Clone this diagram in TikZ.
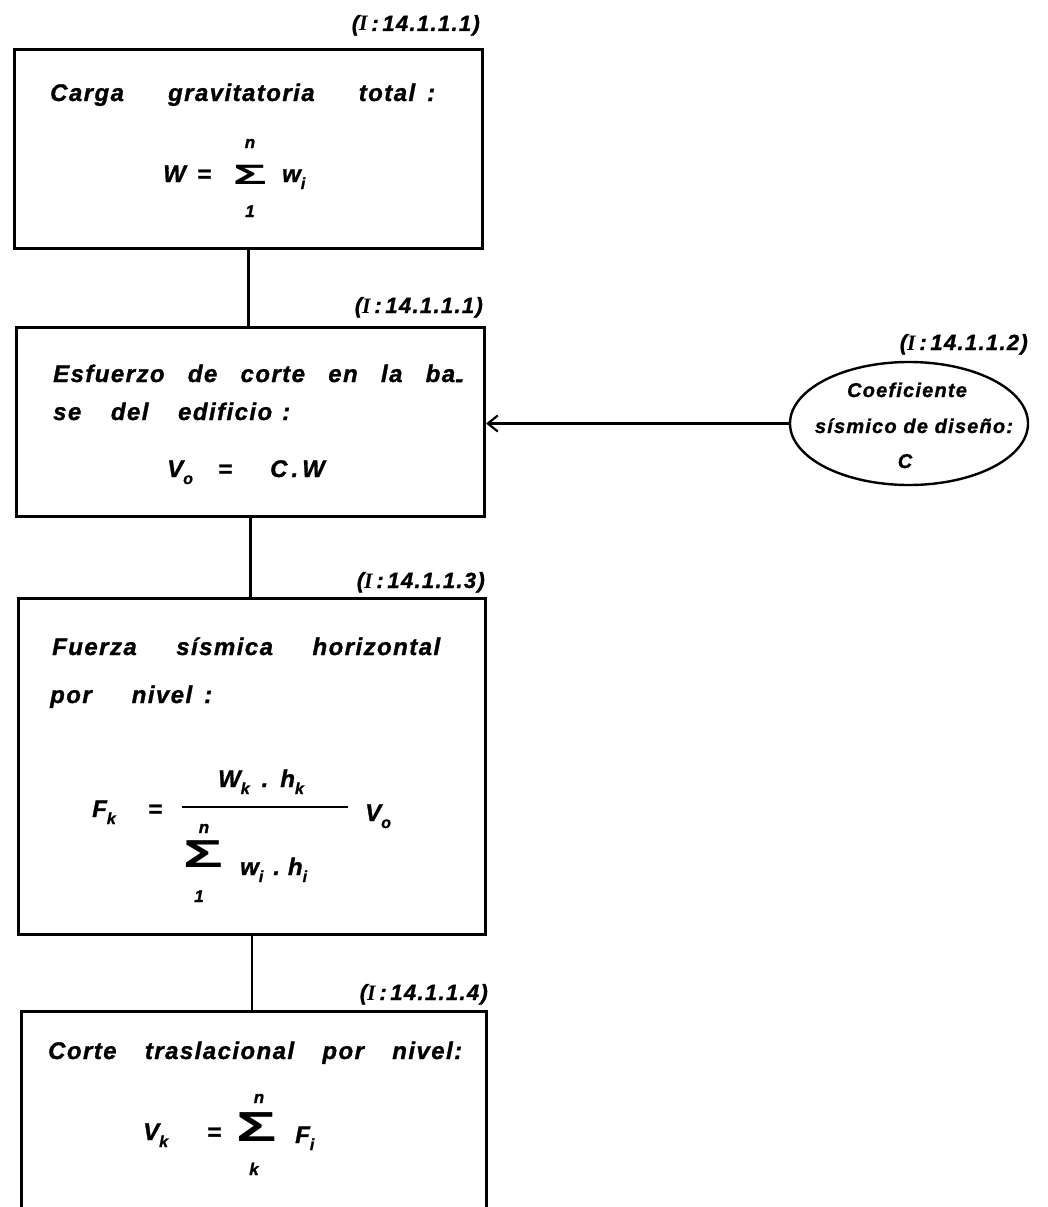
\documentclass[tikz,border=0pt]{standalone}
\usepackage{fontspec}
\setmainfont[LetterSpace=6,BoldItalicFeatures={FakeBold=1.2}]{Liberation Sans}
\newfontfamily\serifI{Liberation Serif}
\usetikzlibrary{arrows.meta,shapes.geometric}
\newcommand{\sbs}[1]{\raisebox{-7pt}{\fontsize{16}{16}\selectfont #1}}
\newcommand{\bigS}[2]{\fontsize{#1}{#1}\selectfont\scalebox{#2}[1]{Σ}}
\begin{document}
\begin{tikzpicture}[x=1pt,y=-1pt,
  every node/.style={inner sep=0pt, font=\fontsize{24}{28}\selectfont\bfseries\itshape},
  box/.style={draw, rectangle, line width=3pt, anchor=north west},
  txt/.style={anchor=base west},
  refl/.style={anchor=base east, font=\fontsize{22}{26}\selectfont\bfseries\itshape},
  lim/.style={anchor=base, font=\fontsize{17}{17}\selectfont\bfseries\itshape},
  sig/.style={anchor=center, font=\bfseries},
  etxt/.style={anchor=base, font=\fontsize{20}{24}\selectfont\bfseries\itshape},
  link/.style={line width=2.2pt},
]
\useasboundingbox[fill=white] (0,0) rectangle (1048,1207);

% boxes
\node[box, minimum width=468pt, minimum height=199pt] (b1) at (13,48) {};
\node[box, minimum width=468pt, minimum height=189pt] (b2) at (15,326) {};
\node[box, minimum width=467pt, minimum height=336pt] (b3) at (17,597) {};
\node[box, minimum width=465pt, minimum height=240pt] (b4) at (20,1010) {};
\node[draw, ellipse, line width=2.4pt, minimum width=238pt, minimum height=123pt] (e) at (909,423.5) {};

% reference labels
\node[refl] (r1) at (480,31) {({\serifI I}\,:\,14.1.1.1)};
\node[refl] (r2) at (483,313) {({\serifI I}\,:\,14.1.1.1)};
\node[refl] (r3) at (485,588) {({\serifI I}\,:\,14.1.1.3)};
\node[refl] (r4) at (488,1000) {({\serifI I}\,:\,14.1.1.4)};
\node[refl] (r5) at (1028,350) {({\serifI I}\,:\,14.1.1.2)};

% box 1
\node[txt] (t1) at (50,101) {\makebox[385pt][s]{Carga gravitatoria total\hspace{12pt}:}};
\node[txt] (w1) at (163,182) {W};
\node[txt] (q1) at (197,182) {=};
\node[sig] (s1) at (250,175) {\bigS{28}{2.0}};
\node[lim] (s1t) at (250,148) {n};
\node[lim] (s1b) at (250,217) {1};
\node[txt] (w1i) at (282,182) {w\sbs{i}};

% box 2
\node[txt] (t2a) at (53,382) {\makebox[410pt][s]{Esfuerzo de corte en la ba\raisebox{-5pt}{-}}};
\node[txt] (t2b) at (53,420) {\makebox[237pt][s]{se del edificio\hspace{10pt}:}};
\node[txt] (v0) at (167,477) {V\sbs{o}};
\node[txt] (q2) at (218,477) {=};
\node[txt] (cw) at (270,477) {C\,.\,W};

% box 3
\node[txt] (t3a) at (52,655) {\makebox[388pt][s]{Fuerza sísmica horizontal}};
\node[txt] (t3b) at (50,703) {\makebox[162pt][s]{por nivel\hspace{12pt}:}};
\node[txt] (fk) at (92,817) {F\sbs{k}};
\node[txt] (q3) at (148,817) {=};
\coordinate (fbl) at (182,807);
\coordinate (fbr) at (348,807);
\draw[line width=2pt] (fbl) -- (fbr);
\node[anchor=base] (num) at (261,787) {W\sbs{k}\hspace{12pt}.\hspace{12pt}h\sbs{k}};
\node[txt] (v0b) at (365,821) {V\sbs{o}};
\node[sig] (s3) at (203,854) {\bigS{39}{1.7}};
\node[lim] (s3t) at (204,833) {n};
\node[lim] (s3b) at (199,902) {1};
\node[txt] (den) at (240,875) {w\sbs{i}\hspace{10pt}.\hspace{8pt}h\sbs{i}};

% box 4
\node[txt] (t4) at (48,1059) {\makebox[414pt][s]{Corte traslacional por nivel:}};
\node[txt] (vk) at (143,1140) {V\sbs{k}};
\node[txt] (q4) at (207,1140) {=};
\node[sig] (s4) at (257,1127) {\bigS{42}{1.6}};
\node[lim] (s4t) at (259,1103) {n};
\node[lim] (s4b) at (254,1175) {k};
\node[txt] (fi) at (295,1143) {F\sbs{i}};

% ellipse text
\node[etxt] (e1) at (907,397) {Coeficiente};
\node[etxt] (e2) at (914,433) {sísmico de diseño:};
\node[etxt] (e3) at (905,468) {C};

% connectors
\draw[link] (b1.south) -- (b1.south |- b2.north);
\draw[link] (b2.south) -- (b2.south |- b3.north);
\draw[link] (b3.south) -- (b3.south |- b4.north);
\draw[link, -{Straight Barb[length=10pt,width=16pt]}] (e.west) -- (e.west -| b2.east);
\end{tikzpicture}
\end{document}
